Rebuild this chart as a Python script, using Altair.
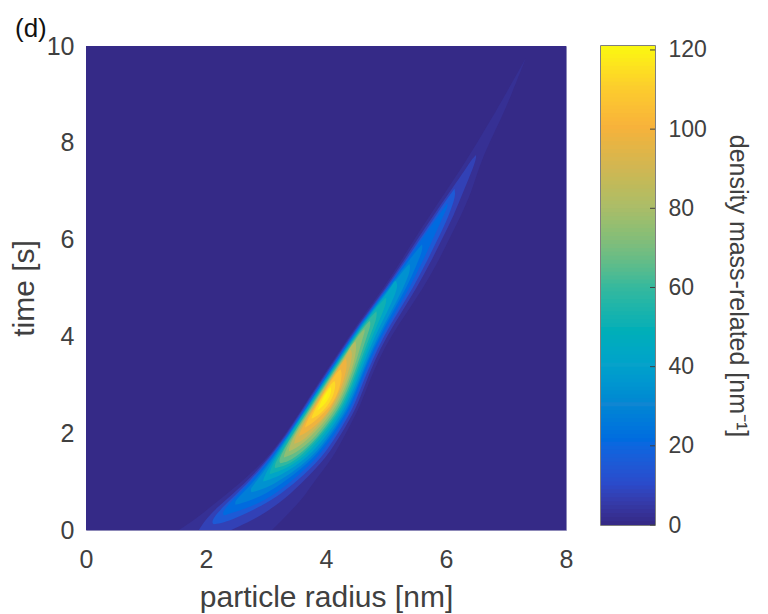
import altair as alt
import pandas as pd

# colour map of the colour bar (parula)
cmap_values = [0, 10, 20, 30, 40, 50, 60, 70, 80, 90, 100, 110, 121]
cmap_colors = ['#352a87', '#2a4bcb', '#0a68e0', '#1086d2', '#07a2ca', '#0db0b4', '#38b99c',
               '#7bbd7d', '#acbd68', '#d2b652', '#f7b23b', '#fccd2d', '#f9fb0e']

bar_values = list(range(121))
bar_ticks = [0, 20, 40, 60, 80, 100, 120]

# iso-density outlines: time [s], left and right radius [nm]
t0, l0, r0 = [0, 10], [0, 0], [8, 8]
t2 = [0, .25, .5, .75, 1, 1.5, 2, 2.5, 3, 3.5, 4, 4.5, 5, 5.5, 6, 6.5, 7, 7.5, 8, 8.5, 9, 9.75]
l2 = [1.55, 1.85, 2.1, 2.35, 2.6, 3.03, 3.33, 3.6, 3.85, 4.12, 4.38, 4.66, 4.96, 5.22, 5.47, 5.73, 6.0, 6.27, 6.52, 6.76, 6.99, 7.33]
r2 = [3.1, 3.3, 3.5, 3.67, 3.8, 4.12, 4.33, 4.55, 4.7, 4.87, 5.08, 5.35, 5.62, 5.85, 6.05, 6.25, 6.43, 6.55, 6.72, 6.92, 7.09, 7.33]
t6 = [0, .25, .5, .75, 1, 1.5, 2, 2.5, 3, 3.5, 4, 4.5, 5, 5.5, 6, 6.5, 7, 7.5, 7.69, 7.75]
l6 = [1.88, 2.01, 2.22, 2.45, 2.68, 3.05, 3.35, 3.61, 3.87, 4.14, 4.40, 4.69, 4.99, 5.26, 5.52, 5.79, 6.07, 6.35, 6.45, 6.5]
r6 = [2.42, 2.85, 3.16, 3.41, 3.62, 4.01, 4.26, 4.5, 4.65, 4.81, 5.01, 5.26, 5.51, 5.73, 5.93, 6.13, 6.29, 6.46, 6.505, 6.5]
t12 = [.12, .15, .25, .5, .75, 1, 1.5, 2, 2.5, 3, 3.5, 4, 4.5, 5, 5.5, 6, 6.5, 6.91, 7.05]
l12 = [2.13, 2.1, 2.12, 2.3, 2.51, 2.72, 3.07, 3.37, 3.63, 3.89, 4.16, 4.42, 4.71, 5.01, 5.29, 5.56, 5.83, 6.055, 6.14]
r12 = [2.13, 2.29, 2.5, 2.94, 3.25, 3.51, 3.94, 4.2, 4.45, 4.6, 4.77, 4.96, 5.2, 5.45, 5.66, 5.86, 6.05, 6.165, 6.14]
t18 = [.3, .35, .5, .75, 1, 1.5, 2, 2.5, 3, 3.5, 4, 4.5, 5, 5.5, 6, 6.5, 6.68, 6.75]
l18 = [2.3, 2.27, 2.35, 2.55, 2.75, 3.09, 3.38, 3.65, 3.9, 4.17, 4.43, 4.72, 5.03, 5.31, 5.59, 5.87, 5.985, 6.02]
r18 = [2.3, 2.42, 2.8, 3.16, 3.42, 3.87, 4.16, 4.41, 4.57, 4.73, 4.92, 5.16, 5.39, 5.59, 5.78, 5.96, 6.03, 6.02]
t24 = [.52, .6, .75, 1, 1.5, 2, 2.5, 3, 3.5, 4, 4.5, 5, 5.5, 5.8, 5.9]
l24 = [2.49, 2.48, 2.6, 2.8, 3.11, 3.39, 3.66, 3.92, 4.19, 4.44, 4.73, 5.04, 5.34, 5.525, 5.6]
r24 = [2.49, 2.72, 3.0, 3.32, 3.82, 4.11, 4.38, 4.54, 4.7, 4.89, 5.11, 5.34, 5.52, 5.615, 5.6]
t30 = [.78, .84, 1, 1.5, 2, 2.5, 3, 3.5, 4, 4.5, 5, 5.38, 5.5]
l30 = [2.76, 2.73, 2.84, 3.13, 3.4, 3.67, 3.92, 4.2, 4.45, 4.75, 5.06, 5.3, 5.39]
r30 = [2.76, 2.95, 3.22, 3.78, 4.08, 4.35, 4.52, 4.68, 4.86, 5.08, 5.29, 5.415, 5.39]
t38 = [1, 1.12, 1.5, 2, 2.5, 3, 3.5, 4, 4.5, 5, 5.11, 5.15]
l38 = [2.95, 2.97, 3.15, 3.41, 3.68, 3.94, 4.21, 4.47, 4.76, 5.08, 5.12, 5.16]
r38 = [2.95, 3.25, 3.71, 4.04, 4.31, 4.49, 4.65, 4.81, 5.02, 5.2, 5.18, 5.16]
t46 = [1.15, 1.24, 1.5, 2, 2.5, 3, 3.5, 4, 4.5, 4.72, 4.8]
l46 = [3.06, 3.07, 3.17, 3.42, 3.69, 3.95, 4.22, 4.48, 4.78, 4.925, 5.0]
r46 = [3.06, 3.3, 3.64, 3.99, 4.28, 4.46, 4.61, 4.77, 4.95, 5.01, 5.0]
t54 = [1.28, 1.33, 1.5, 2, 2.5, 3, 3.5, 4, 4.39, 4.52]
l54 = [3.15, 3.14, 3.2, 3.45, 3.71, 3.96, 4.23, 4.49, 4.735, 4.84]
r54 = [3.15, 3.33, 3.57, 3.95, 4.25, 4.43, 4.58, 4.73, 4.855, 4.84]
t62 = [1.38, 1.41, 1.5, 1.75, 2, 2.5, 3, 3.5, 4, 4.24, 4.32]
l62 = [3.24, 3.22, 3.23, 3.34, 3.46, 3.72, 3.98, 4.25, 4.51, 4.665, 4.73]
r62 = [3.24, 3.36, 3.49, 3.73, 3.91, 4.22, 4.4, 4.55, 4.68, 4.75, 4.73]
t70 = [1.5, 1.56, 1.75, 2, 2.5, 3, 3.5, 4, 4.11, 4.15]
l70 = [3.3, 3.3, 3.37, 3.48, 3.74, 3.99, 4.26, 4.53, 4.605, 4.64]
r70 = [3.3, 3.45, 3.67, 3.87, 4.18, 4.37, 4.51, 4.62, 4.65, 4.64]
t78 = [1.62, 1.71, 2, 2.5, 3, 3.5, 3.8, 3.9]
l78 = [3.38, 3.385, 3.49, 3.75, 4.0, 4.28, 4.41, 4.49]
r78 = [3.38, 3.545, 3.81, 4.15, 4.34, 4.48, 4.51, 4.49]
t86 = [1.78, 1.83, 2, 2.5, 3, 3.5, 3.67, 3.72]
l86 = [3.47, 3.47, 3.52, 3.77, 4.02, 4.3, 4.37, 4.41]
r86 = [3.47, 3.59, 3.76, 4.11, 4.31, 4.43, 4.435, 4.41]
t94 = [1.94, 2.02, 2.25, 2.5, 3, 3.41, 3.55]
l94 = [3.55, 3.565, 3.66, 3.78, 4.03, 4.235, 4.33]
r94 = [3.55, 3.69, 3.91, 4.08, 4.28, 4.36, 4.33]
t102 = [2.12, 2.21, 2.5, 2.75, 3, 3.24, 3.32]
l102 = [3.65, 3.665, 3.8, 3.92, 4.04, 4.17, 4.24]
r102 = [3.65, 3.785, 4.04, 4.17, 4.24, 4.27, 4.24]
t110 = [2.3, 2.35, 2.5, 2.75, 3.0, 3.08]
l110 = [3.76, 3.765, 3.82, 3.93, 4.07, 4.14]
r110 = [3.76, 3.85, 3.99, 4.12, 4.165, 4.14]
t116 = [2.47, 2.54, 2.75, 2.9, 2.95]
l116 = [3.85, 3.88, 3.95, 4.04, 4.08]
r116 = [3.85, 3.94, 4.07, 4.09, 4.08]
t119 = [2.65, 2.75, 2.85]
l119 = [3.95, 3.97, 4.03]
r119 = [3.95, 4.02, 4.03]

# density shown inside each outline
shades = [0, 2, 7, 15, 21, 27, 34, 42, 50, 58, 66, 74, 82, 90, 98, 106, 113, 118, 120]
outlines = [(t0, l0, r0), (t2, l2, r2), (t6, l6, r6), (t12, l12, r12), (t18, l18, r18),
            (t24, l24, r24), (t30, l30, r30), (t38, l38, r38), (t46, l46, r46),
            (t54, l54, r54), (t62, l62, r62), (t70, l70, r70), (t78, l78, r78),
            (t86, l86, r86), (t94, l94, r94), (t102, l102, r102), (t110, l110, r110),
            (t116, l116, r116), (t119, l119, r119)]

rows = []
for shade, (times, lefts, rights) in zip(shades, outlines):
    for t, l, r in zip(times, lefts, rights):
        rows.append({'level': shade, 'time': t, 'left': l, 'right': r})
df = pd.DataFrame(rows)

cscale = alt.Scale(domain=cmap_values, range=cmap_colors)
FONT_COLOR = '#404040'

bands = alt.Chart(df).mark_area(interpolate='basis', orient='horizontal', clip=True).encode(
    y=alt.Y('time:Q', title='time [s]', scale=alt.Scale(domain=[0, 10], nice=False),
            axis=alt.Axis(values=[0, 2, 4, 6, 8, 10], labelPadding=12, labelFontSize=25, titlePadding=7)),
    x=alt.X('left:Q', title='particle radius [nm]', scale=alt.Scale(domain=[0, 8], nice=False),
            axis=alt.Axis(values=[0, 2, 4, 6, 8], labelPadding=17, labelFontSize=25, labelFlush=False, titlePadding=10)),
    x2='right:Q',
    detail='level:N',
    color=alt.Color('level:Q', scale=cscale, legend=None),
)

panel_label = alt.Chart(pd.DataFrame({'label': ['(d)']})).mark_text(
    align='left', baseline='middle', fontSize=26, font='Liberation Sans', color='#111111'
).encode(x=alt.value(-71), y=alt.value(-17), text='label:N')

main = alt.layer(bands, panel_label).properties(
    width=480, height=484, view=alt.ViewBackground(stroke='#8d89b8', strokeWidth=1))

bar_df = pd.DataFrame({'value': bar_values, 'top': [v + 1.5 for v in bar_values]})
bar = alt.Chart(bar_df).mark_rect(clip=True).encode(
    x=alt.value(0), x2=alt.value(54),
    y=alt.Y('value:Q', scale=alt.Scale(domain=[0, 121], nice=False),
            axis=alt.Axis(orient='right', values=bar_ticks, labelPadding=13, titlePadding=18,
                          title='density mass-related [nm⁻¹]', titleFontSize=25)),
    y2='top:Q',
    color=alt.Color('value:Q', scale=cscale, legend=None),
)
bar_tick_marks = alt.Chart(pd.DataFrame({'value': bar_ticks})).mark_rule(color='#404040', strokeWidth=1).encode(
    x=alt.value(49), x2=alt.value(54), y='value:Q')

colorbar = alt.layer(bar, bar_tick_marks).properties(
    width=54, height=479, view=alt.ViewBackground(stroke='#555555', strokeWidth=1.5))

chart = alt.hconcat(main, colorbar, spacing=35, bounds='flush').properties(
    padding={'left': 0, 'top': 7, 'right': 5, 'bottom': 0}
).configure_axis(
    domain=False, ticks=False, grid=False, labelFont='Liberation Sans', titleFont='Liberation Sans',
    labelFontSize=23, titleFontSize=30, labelColor=FONT_COLOR, titleColor=FONT_COLOR,
    titleFontWeight='normal'
)

chart.save("out.html", embed_options={"renderer": "svg", "actions": False})
